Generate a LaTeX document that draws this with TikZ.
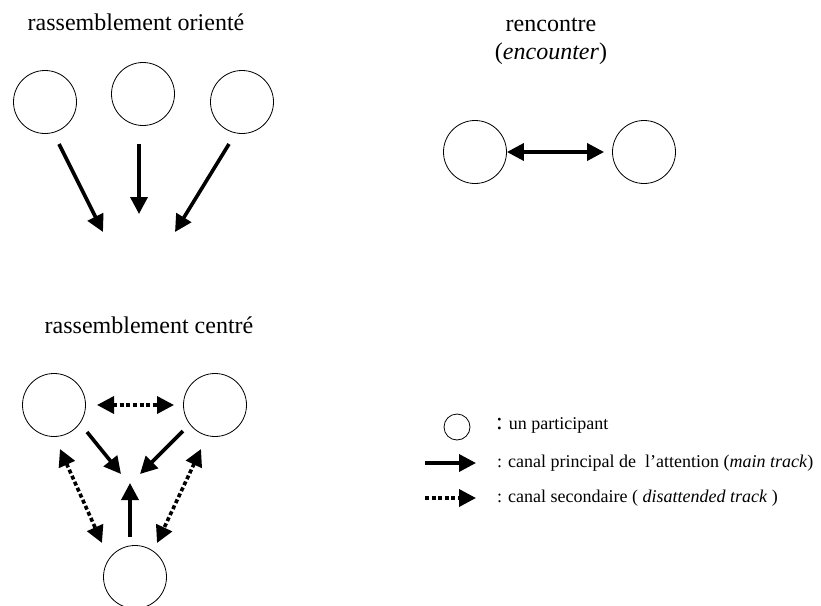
\documentclass[tikz,border=0pt]{standalone}
\usepackage{fontspec}
\setmainfont{Liberation Serif}
\usetikzlibrary{arrows.meta}
\begin{document}
\begin{tikzpicture}[x=1pt,y=-1pt,
  part/.style={circle,draw,line width=0.8pt,minimum size=63pt,inner sep=0pt},
  small/.style={circle,draw,line width=0.8pt,minimum size=26pt,inner sep=0pt},
  title/.style={font=\fontsize{24}{28}\selectfont,inner sep=0pt},
  legtext/.style={font=\fontsize{18}{20}\selectfont,inner sep=0pt,anchor=west},
  tip/.style={Triangle[length=17pt,width=17pt]},
  mainarr/.style={line width=3.6pt,-{Triangle[length=17pt,width=17pt]}},
  secarr/.style={line width=3.6pt,dash pattern=on 4pt off 2.6pt,-{Triangle[length=17pt,width=17pt]}},
  secboth/.style={line width=3.6pt,dash pattern=on 4pt off 2.6pt,{Triangle[length=17pt,width=17pt]}-{Triangle[length=17pt,width=17pt]}},
  mainboth/.style={line width=3.6pt,{Triangle[length=17pt,width=17pt]}-{Triangle[length=17pt,width=17pt]}}]
\useasboundingbox (0,0) rectangle (821,605);

% rassemblement orienté
\node[title] (t1) at (136,22) {rassemblement orienté};
\node[part] (o1) at (45,102) {};
\node[part] (o2) at (143,94) {};
\node[part] (o3) at (242,102) {};
\coordinate (o1s) at (59,144);
\coordinate (o1e) at (103,232);
\coordinate (o2s) at (139,144);
\coordinate (o2e) at (139,214);
\coordinate (o3s) at (229,144);
\coordinate (o3e) at (175,232);
\draw[mainarr] (o1s) -- (o1e);
\draw[mainarr] (o2s) -- (o2e);
\draw[mainarr] (o3s) -- (o3e);

% rencontre
\node[title] (t2) at (551,25) {rencontre};
\node[title] (t2b) at (551,54) {(\textit{encounter})};
\node[part] (e1) at (475,152) {};
\node[part] (e2) at (644,152) {};
\draw[mainboth] (e1.east) -- ([xshift=-8pt]e2.west);

% rassemblement centré
\node[title] (t3) at (149,325) {rassemblement centré};
\node[part] (c1) at (54,405) {};
\node[part] (c2) at (215,405) {};
\node[part] (c3) at (135,577) {};
\coordinate (h1) at (97,405);
\coordinate (h2) at (174,405);
\draw[secboth] (h1) -- (h2);
\coordinate (m1s) at (87,432);
\coordinate (m1e) at (121,474);
\coordinate (m2s) at (183,431);
\coordinate (m2e) at (140,474);
\coordinate (m3s) at (130,537);
\coordinate (m3e) at (130,483);
\draw[mainarr] (m1s) -- (m1e);
\draw[mainarr] (m2s) -- (m2e);
\draw[mainarr] (m3s) -- (m3e);
\coordinate (d1s) at (60,449);
\coordinate (d1e) at (102,543);
\coordinate (d2s) at (201,449);
\coordinate (d2e) at (157,543);
\draw[secboth] (d1s) -- (d1e);
\draw[secboth] (d2s) -- (d2e);

% legend
\node[small] (l1) at (457,427) {};
\node[legtext] (lt1) at (496,425) {{\fontsize{24}{24}\selectfont :} un participant};
\coordinate (l2s) at (425,463);
\coordinate (l2e) at (476,463);
\draw[mainarr] (l2s) -- (l2e);
\node[legtext] (lt2) at (497,463) {: canal principal de\ \ l’attention (\textit{main track})};
\coordinate (l3s) at (425,498);
\coordinate (l3e) at (476,498);
\draw[secarr] (l3s) -- (l3e);
\node[legtext] (lt3) at (497,498) {: canal secondaire ( \textit{disattended track} )};
\end{tikzpicture}
\end{document}
